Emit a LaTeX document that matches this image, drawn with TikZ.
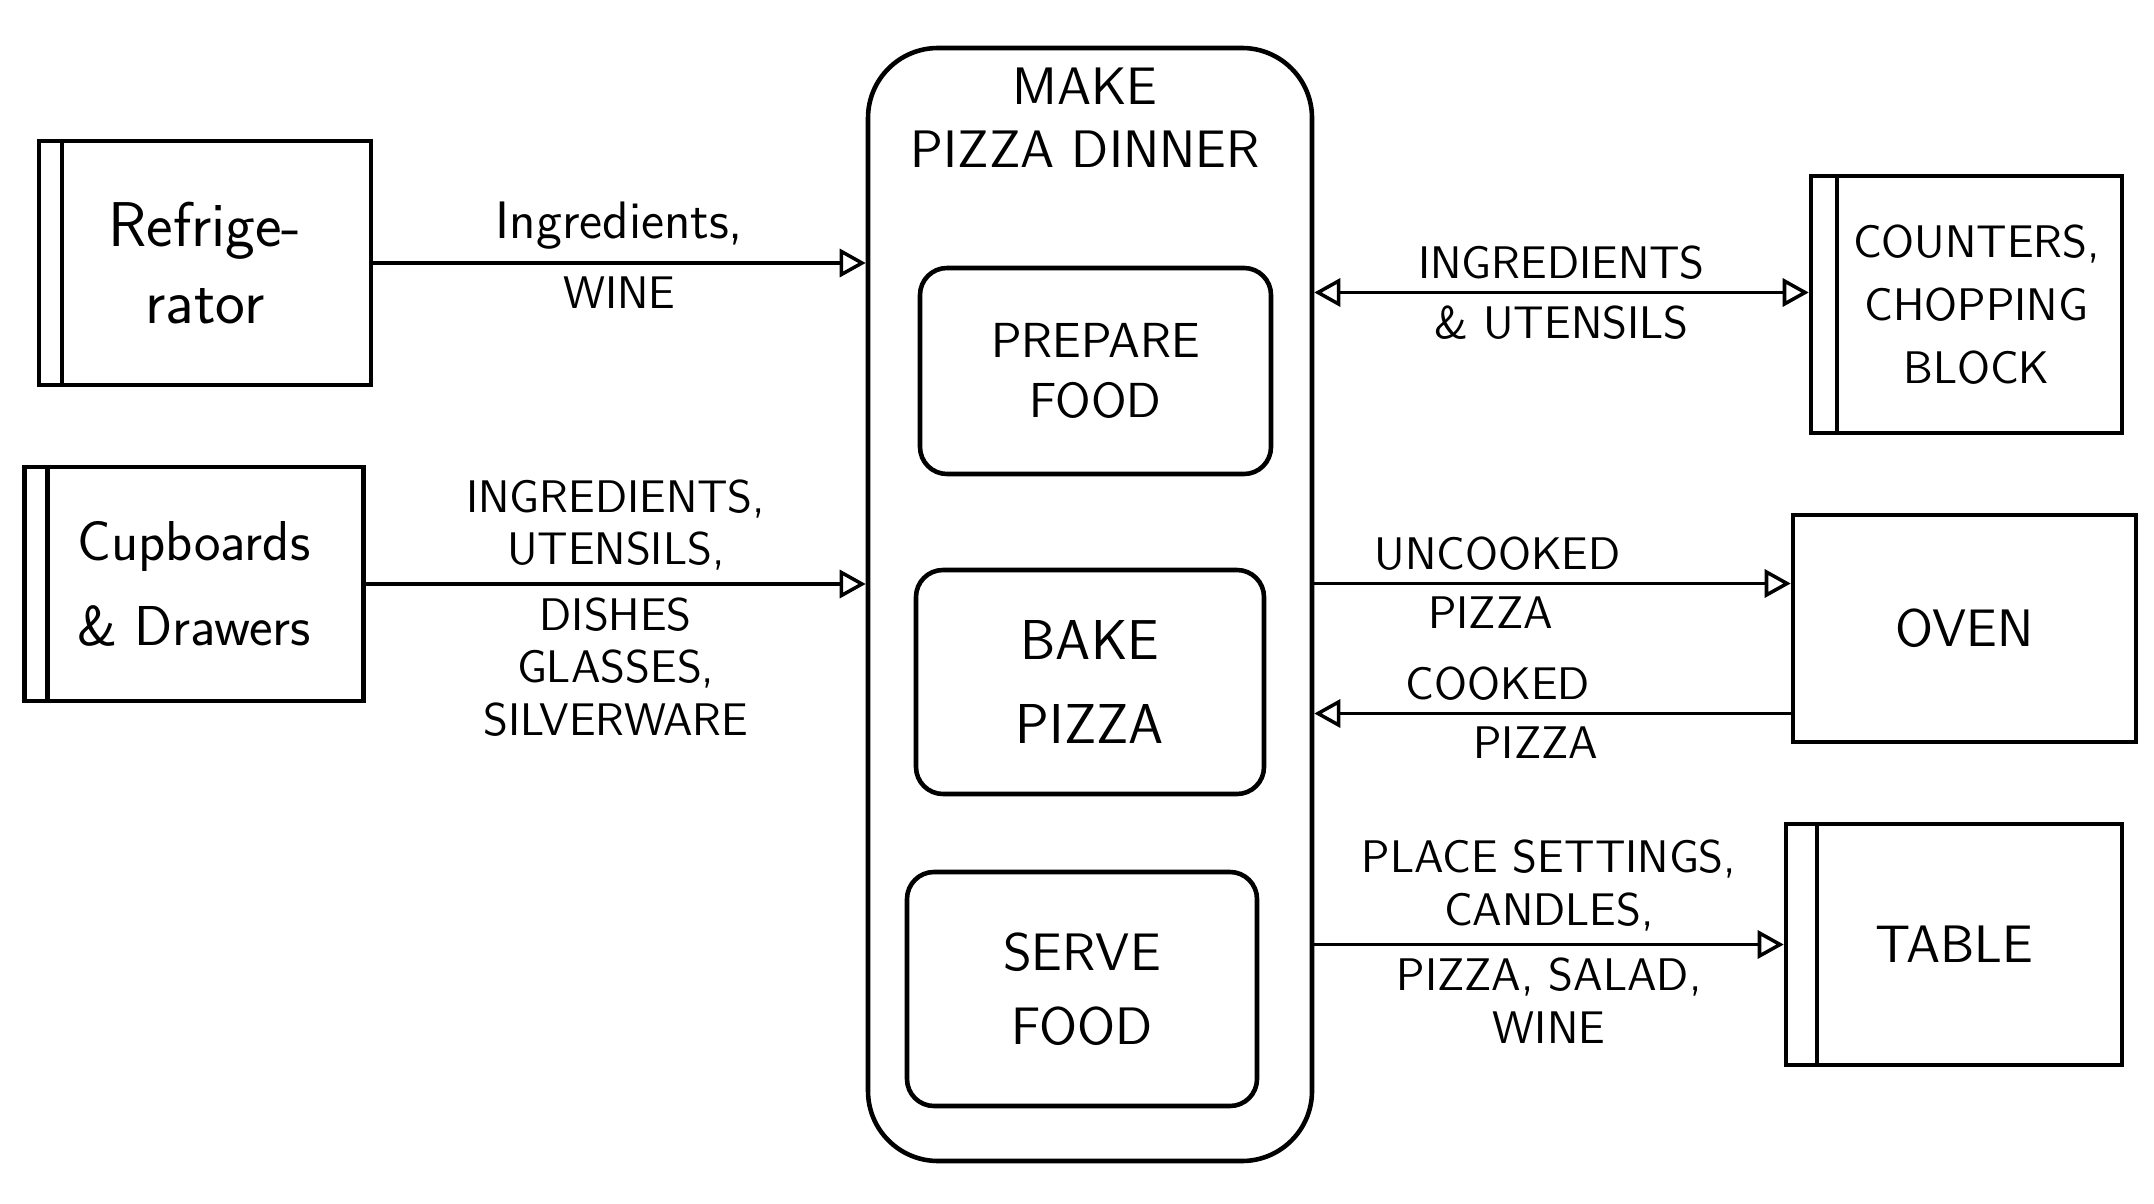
\documentclass[tikz,border=0pt]{standalone}
\usepackage{tikz}
\usetikzlibrary{arrows.meta,positioning}

\begin{document}
\begin{tikzpicture}[
    >={Triangle[open,length=2.6mm,width=2.8mm]},
    every node/.style={font=\sffamily},
    box/.style={draw,line width=1.3pt,align=center,inner sep=0pt},
    store/.style={box,path picture={\draw[line width=1.3pt] ([xshift=#1]path picture bounding box.north west) -- ([xshift=#1]path picture bounding box.south west);}},
    proc/.style={box,rounded corners=2.7mm},
    flow/.style={line width=1pt,->},
    lbl/.style={align=center,font=\sffamily\fontsize{13}{15}\selectfont}
]
\useasboundingbox (0,0) rectangle (21.54,12.03);
% stores on the left
\node[store=2.3mm,minimum width=3.32cm,minimum height=2.44cm,font=\sffamily\fontsize{18}{22}\selectfont] (F) at (2.05,9.40) {Refrige-\\rator};
\node[store=2.3mm,minimum width=3.39cm,minimum height=2.34cm,font=\sffamily\fontsize{16}{24}\selectfont] (C) at (1.94,6.19) {Cupboards\\\& Drawers};
% main process
\node[proc,rounded corners=7mm,minimum width=4.44cm,minimum height=11.13cm] (M) at (10.90,5.985) {};
\node[align=center,font=\sffamily\fontsize{15}{18}\selectfont] (Mt) at (10.85,10.85) {MAKE\\PIZZA DINNER};
\node[proc,minimum width=3.51cm,minimum height=2.06cm,font=\sffamily\fontsize{14}{17}\selectfont] (P) at (10.955,8.32) {PREPARE\\FOOD};
\node[proc,minimum width=3.48cm,minimum height=2.24cm,font=\sffamily\fontsize{16}{24}\selectfont] (B) at (10.90,5.21) {BAKE\\PIZZA};
\node[proc,minimum width=3.50cm,minimum height=2.34cm,font=\sffamily\fontsize{15}{21}\selectfont] (S) at (10.82,2.14) {SERVE\\FOOD};
% stores on the right
\node[store=2.6mm,minimum width=3.11cm,minimum height=2.57cm,font=\sffamily\fontsize{13}{18}\selectfont] (K) at (19.665,8.985) {\hspace*{2mm}COUNTERS,\\\hspace*{2mm}CHOPPING\\\hspace*{2mm}BLOCK};
\node[box,minimum width=3.43cm,minimum height=2.27cm,font=\sffamily\fontsize{15}{18}\selectfont] (O) at (19.645,5.745) {OVEN};
\node[store=3.1mm,minimum width=3.36cm,minimum height=2.41cm,font=\sffamily\fontsize{15}{18}\selectfont] (T) at (19.54,2.585) {TABLE};
% flows
\coordinate (k) at ([yshift=1.2mm]K.west);
\coordinate (oi) at ([yshift=4.5mm]O.west);
\coordinate (oo) at ([yshift=-8.5mm]O.west);
\draw[flow] (F.east) -- (F.east -| M.west) node[pos=0.5,above,lbl,font=\sffamily\fontsize{15}{17}\selectfont]{Ingredients,} node[pos=0.5,below,lbl]{WINE};
\draw[flow] (C.east) -- (C.east -| M.west) node[pos=0.5,above,lbl]{INGREDIENTS,\\UTENSILS,} node[pos=0.5,below,lbl]{DISHES\\GLASSES,\\SILVERWARE};
\draw[flow,<->] (k -| M.east) -- (k) node[pos=0.5,above,lbl]{INGREDIENTS} node[pos=0.5,below,lbl]{\& UTENSILS};
\draw[flow] (oi -| M.east) -- (oi) node[pos=0.385,above,lbl]{UNCOOKED} node[pos=0.37,below,lbl]{PIZZA};
\draw[flow] (oo) -- (oo -| M.east) node[pos=0.615,above,lbl]{COOKED} node[pos=0.535,below,lbl]{PIZZA};
\draw[flow] (T.west -| M.east) -- (T.west) node[pos=0.5,above,lbl]{PLACE SETTINGS,\\CANDLES,} node[pos=0.5,below,lbl]{PIZZA, SALAD,\\WINE};
\end{tikzpicture}
\end{document}
